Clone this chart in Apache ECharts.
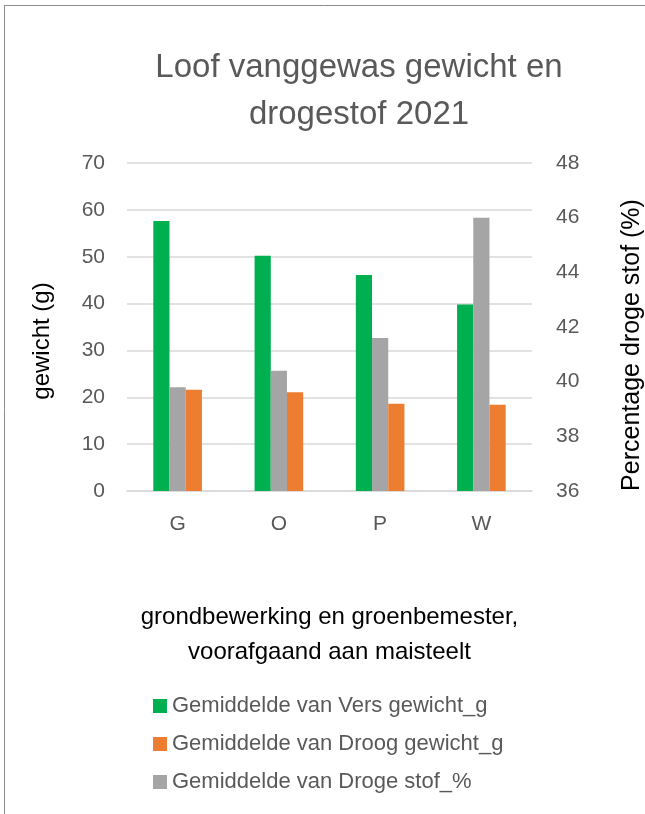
<!DOCTYPE html>
<html>
<head>
<meta charset="utf-8">
<script src="https://cdn.jsdelivr.net/npm/echarts@6/dist/echarts.min.js"></script>
<style>
  html, body { margin: 0; padding: 0; background: #fff; }
  #main { width: 645px; height: 814px; }
</style>
</head>
<body>
<div id="main"></div>
<script>
// data
var categories = ["G", "O", "P", "W"];
var versGewicht = [57.6, 50.2, 46.1, 39.8];
var droogGewicht = [21.6, 21.1, 18.6, 18.4];
var drogeStof = [39.8, 40.4, 41.6, 46.0];
var leftTicks = { min: 0, max: 70, interval: 10 };
var rightTicks = { min: 36, max: 48, interval: 2 };

var font = "'Liberation Sans', 'Noto Sans', sans-serif";
var grey = "#595959";

var myChart = echarts.init(document.getElementById("main"));

myChart.setOption({
  textStyle: { fontFamily: font },
  animation: false,
  title: {
    text: "Loof vanggewas gewicht en\ndrogestof 2021",
    left: 354,
    top: 39,
    textAlign: "center",
    textStyle: { fontSize: 33, fontWeight: "normal", color: grey, lineHeight: 47, fontFamily: font }
  },
  graphic: [
    { type: "line", shape: { x1: 4.5, y1: 5, x2: 4.5, y2: 814 }, style: { stroke: "#8c8c8c", lineWidth: 1 } },
    { type: "line", shape: { x1: 4.5, y1: 5.5, x2: 645, y2: 5.5 }, style: { stroke: "#8c8c8c", lineWidth: 1 } }
  ],
  legend: {
    orient: "vertical",
    left: 148,
    top: 690,
    itemGap: 16,
    itemWidth: 14,
    itemHeight: 14,
    icon: "rect",
    data: ["Gemiddelde van Vers gewicht_g", "Gemiddelde van Droog gewicht_g", "Gemiddelde van Droge stof_%"],
    textStyle: { fontSize: 22, color: grey, fontFamily: font }
  },
  grid: { left: 127, right: 113, top: 163, bottom: 323, containLabel: false, outerBoundsMode: "none" },
  xAxis: {
    type: "category",
    data: categories,
    name: "grondbewerking en groenbemester,\nvoorafgaand aan maisteelt",
    nameLocation: "middle",
    nameGap: 109,
    nameTextStyle: { fontSize: 24, color: "#000", lineHeight: 35, fontFamily: font },
    axisLine: { show: true, lineStyle: { color: "#d9d9d9", width: 1.5 } },
    axisTick: { show: false },
    axisLabel: { fontSize: 21, color: grey, margin: 23 }
  },
  yAxis: [
    {
      type: "value",
      min: leftTicks.min,
      max: leftTicks.max,
      interval: leftTicks.interval,
      name: "gewicht (g)",
      nameLocation: "middle",
      nameGap: 73,
      nameRotate: 90,
      nameTextStyle: { fontSize: 24, color: "#000", fontFamily: font, padding: [0, 28, 0, 0] },
      axisLine: { show: false },
      axisTick: { show: false },
      axisLabel: { fontSize: 21, color: grey, margin: 22 },
      splitLine: { lineStyle: { color: "#d9d9d9", width: 1.5 } }
    },
    {
      type: "value",
      min: rightTicks.min,
      max: rightTicks.max,
      interval: rightTicks.interval,
      name: "Percentage droge stof (%)",
      nameLocation: "middle",
      nameGap: 88,
      nameRotate: 90,
      nameTextStyle: { fontSize: 25, color: "#000", fontFamily: font, padding: [0, 36, 0, 0] },
      axisLine: { show: false },
      axisTick: { show: false },
      axisLabel: { fontSize: 21, color: grey, margin: 24 },
      splitLine: { show: false }
    }
  ],
  series: [
    {
      name: "Gemiddelde van Vers gewicht_g",
      type: "bar",
      yAxisIndex: 0,
      data: versGewicht,
      itemStyle: { color: "#00b050" },
      barGap: "0%",
      barCategoryGap: "52%"
    },
    {
      name: "Gemiddelde van Droge stof_%",
      type: "bar",
      yAxisIndex: 1,
      data: drogeStof,
      itemStyle: { color: "#a5a5a5" },
      barGap: "0%",
      barCategoryGap: "52%"
    },
    {
      name: "Gemiddelde van Droog gewicht_g",
      type: "bar",
      yAxisIndex: 0,
      data: droogGewicht,
      itemStyle: { color: "#ed7d31" },
      barGap: "0%",
      barCategoryGap: "52%"
    }
  ]
});
</script>
</body>
</html>
